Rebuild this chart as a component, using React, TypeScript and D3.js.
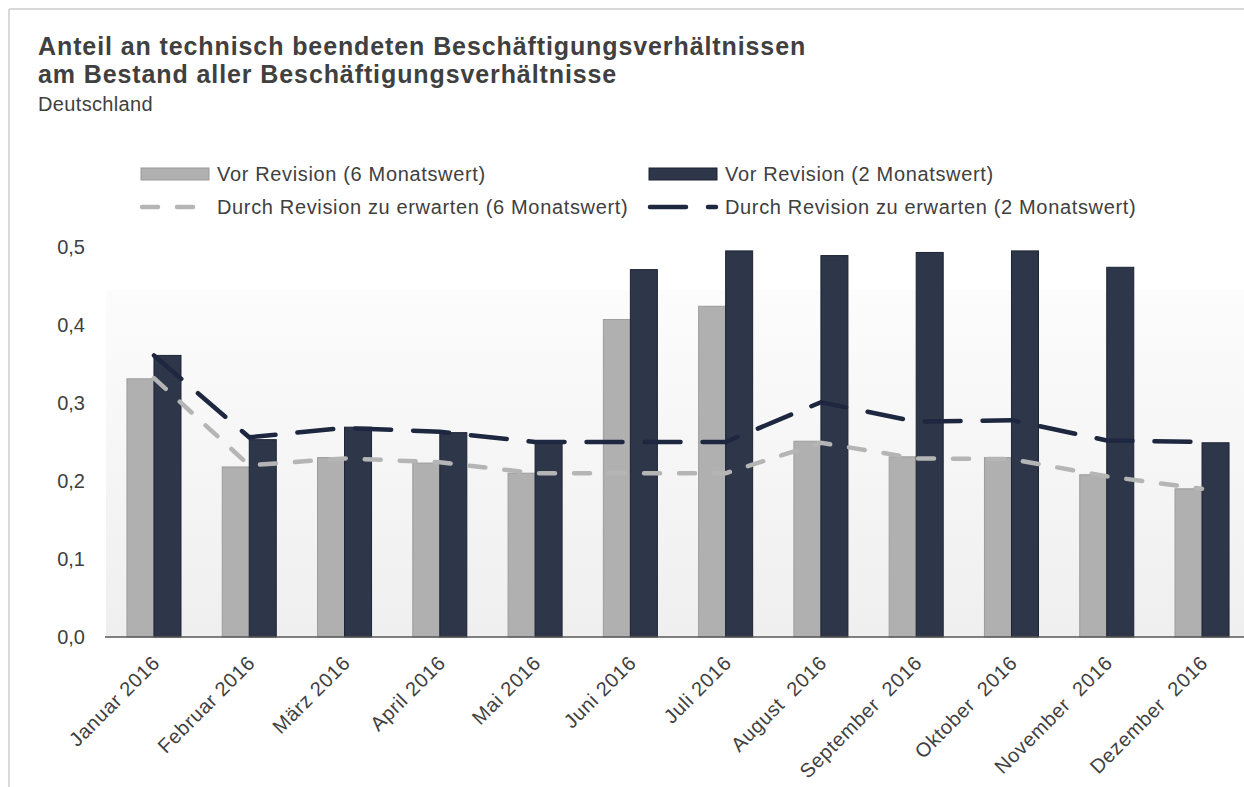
import { useEffect, useRef } from "react";
import * as d3 from "d3";

const months = [
  "Januar 2016",
  "Februar 2016",
  "März 2016",
  "April 2016",
  "Mai 2016",
  "Juni 2016",
  "Juli 2016",
  "August  2016",
  "September  2016",
  "Oktober  2016",
  "November  2016",
  "Dezember  2016"
];

// Vor Revision
const sixMonthBars = [0.331, 0.218, 0.23, 0.223, 0.21, 0.407, 0.424, 0.251, 0.231, 0.23, 0.208, 0.19];
const twoMonthBars = [0.361, 0.253, 0.269, 0.262, 0.249, 0.471, 0.495, 0.489, 0.493, 0.495, 0.474, 0.249];

// Durch Revision zu erwarten
const sixMonthExpected = [0.332, 0.22, 0.229, 0.224, 0.21, 0.21, 0.21, 0.249, 0.229, 0.228, 0.206, 0.19];
const twoMonthExpected = [0.361, 0.256, 0.268, 0.263, 0.25, 0.25, 0.25, 0.301, 0.276, 0.278, 0.252, 0.25];

const yTicks = [0, 0.1, 0.2, 0.3, 0.4, 0.5];

const legendItems = [
  { label: "Vor Revision (6 Monatswert)", kind: "bar", color: "#b0b0b0", stroke: "#9a9a9a" },
  { label: "Vor Revision (2 Monatswert)", kind: "bar", color: "#2e364a", stroke: "#1d2333" },
  { label: "Durch Revision zu erwarten (6 Monatswert)", kind: "line", color: "#b5b5b5", dash: "16 19" },
  { label: "Durch Revision zu erwarten (2 Monatswert)", kind: "line", color: "#1e2740", dash: "36 22" }
];

const FONT = "'Liberation Sans', Arial, sans-serif";
const TEXT = "#404040";

export default function App() {
  const svgRef = useRef(null);

  useEffect(() => {
    const width = 1244;
    const height = 787;
    const svg = d3.select(svgRef.current);
    svg.selectAll("*").remove();
    svg.attr("width", width).attr("height", height);

    const margin = { top: 247, left: 106, bottom: 637, right: 1250 };

    const x = d3.scaleBand().domain(months).range([margin.left, margin.right]).paddingInner(0.433).paddingOuter(0.22);
    const sub = d3.scaleBand().domain(["six", "two"]).range([0, x.bandwidth()]);
    const y = d3.scaleLinear().domain([0, 0.5]).range([margin.bottom, margin.top]);

    // frame
    svg.append("line").attr("x1", 9).attr("x2", width).attr("y1", 9).attr("y2", 9).attr("stroke", "#d9d9d9").attr("stroke-width", 2);
    svg.append("line").attr("x1", 9).attr("x2", 9).attr("y1", 9).attr("y2", height).attr("stroke", "#d9d9d9").attr("stroke-width", 2);

    // title
    const title = svg.append("g").attr("font-family", FONT).attr("fill", TEXT);
    title.append("text").attr("x", 38).attr("y", 55).attr("font-size", 25).attr("font-weight", "bold").attr("letter-spacing", 0.9)
      .text("Anteil an technisch beendeten Beschäftigungsverhältnissen");
    title.append("text").attr("x", 38).attr("y", 83).attr("font-size", 25).attr("font-weight", "bold").attr("letter-spacing", 0.9)
      .text("am Bestand aller Beschäftigungsverhältnisse");
    title.append("text").attr("x", 38).attr("y", 111).attr("font-size", 20).attr("letter-spacing", 0.35).text("Deutschland");

    // plot background
    const defs = svg.append("defs");
    const grad = defs.append("linearGradient").attr("id", "plotBg").attr("x1", 0).attr("x2", 0).attr("y1", 0).attr("y2", 1);
    grad.append("stop").attr("offset", "0%").attr("stop-color", "#fcfcfc");
    grad.append("stop").attr("offset", "100%").attr("stop-color", "#efefef");
    svg.append("rect").attr("x", margin.left).attr("y", 290).attr("width", width - margin.left).attr("height", margin.bottom - 290)
      .attr("fill", "url(#plotBg)");

    // legend
    const legend = svg.append("g").attr("font-family", FONT).attr("font-size", 20).attr("letter-spacing", 0.65).attr("fill", TEXT);
    const legendPos = [
      { x: 141, y: 174 },
      { x: 649, y: 174 },
      { x: 141, y: 207 },
      { x: 649, y: 207 }
    ];
    legendItems.forEach((item, i) => {
      const p = legendPos[i];
      if (item.kind === "bar") {
        legend.append("rect").attr("x", p.x).attr("y", p.y - 6).attr("width", 68).attr("height", 12)
          .attr("fill", item.color).attr("stroke", item.stroke).attr("stroke-width", 1);
      } else {
        legend.append("line").attr("x1", p.x + 1).attr("x2", p.x + 67).attr("y1", p.y).attr("y2", p.y)
          .attr("stroke", item.color).attr("stroke-width", 4.5).attr("stroke-linecap", "round").attr("stroke-dasharray", item.dash);
      }
      legend.append("text").attr("x", p.x + 76).attr("y", p.y + 7).text(item.label);
    });

    // bars
    const barLayer = svg.append("g");
    barLayer.selectAll("rect.six").data(sixMonthBars).join("rect").attr("class", "six")
      .attr("x", (d, i) => x(months[i]) + sub("six"))
      .attr("y", (d) => y(d))
      .attr("width", sub.bandwidth())
      .attr("height", (d) => y(0) - y(d))
      .attr("fill", "#b0b0b0").attr("stroke", "#9c9c9c").attr("stroke-width", 1);
    barLayer.selectAll("rect.two").data(twoMonthBars).join("rect").attr("class", "two")
      .attr("x", (d, i) => x(months[i]) + sub("two"))
      .attr("y", (d) => y(d))
      .attr("width", sub.bandwidth())
      .attr("height", (d) => y(0) - y(d))
      .attr("fill", "#2e364a").attr("stroke", "#1d2333").attr("stroke-width", 1);

    // expected lines
    const line = d3.line().x((d, i) => x(months[i]) + x.bandwidth() / 2).y((d) => y(d));
    svg.append("path").attr("d", line(sixMonthExpected)).attr("fill", "none").attr("stroke", "#b5b5b5")
      .attr("stroke-width", 4.5).attr("stroke-linecap", "round").attr("stroke-dasharray", "16 19");
    svg.append("path").attr("d", line(twoMonthExpected)).attr("fill", "none").attr("stroke", "#1e2740")
      .attr("stroke-width", 4.5).attr("stroke-linecap", "round").attr("stroke-dasharray", "36 22");

    // axis baseline
    svg.append("line").attr("x1", margin.left - 1).attr("x2", width).attr("y1", y(0)).attr("y2", y(0))
      .attr("stroke", "#595959").attr("stroke-width", 1.5);

    // y labels
    svg.append("g").attr("font-family", FONT).attr("font-size", 20).attr("fill", TEXT).attr("text-anchor", "end")
      .selectAll("text").data(yTicks).join("text")
      .attr("x", 85).attr("y", (d) => y(d)).attr("dy", "0.36em")
      .text((d) => d3.format(".1f")(d).replace(".", ","));

    // x labels
    svg.append("g").attr("font-family", FONT).attr("font-size", 20).attr("letter-spacing", 0.65).attr("fill", TEXT)
      .attr("text-anchor", "end")
      .selectAll("text").data(months).join("text")
      .attr("transform", (d) => `translate(${x(d) + x.bandwidth() / 2 + 2},${y(0) + 22}) rotate(-45)`)
      .attr("dy", "0.36em")
      .style("white-space", "pre")
      .text((d) => d);
  }, []);

  return <svg ref={svgRef} style={{ position: "absolute", left: 0, top: 0, background: "#fff" }} />;
}
